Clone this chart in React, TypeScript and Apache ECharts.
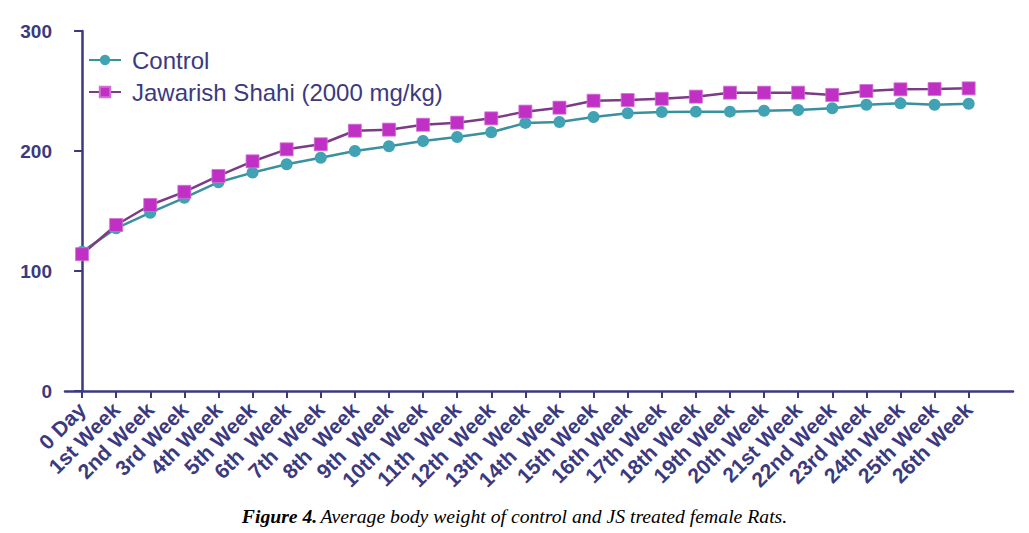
import React, { useEffect, useRef } from "react";
import * as echarts from "echarts";

const categories = [
  "0 Day", "1st Week", "2nd Week", "3rd Week", "4th Week", "5th Week", "6th  Week",
  "7th  Week", "8th  Week", "9th  Week", "10th  Week", "11th  Week", "12th  Week",
  "13th  Week", "14th  Week", "15th Week", "16th Week", "17th Week", "18th Week",
  "19th Week", "20th Week", "21st Week", "22nd Week", "23rd Week", "24th Week",
  "25th Week", "26th Week",
];

const controlValues = [
  116, 135.6, 148.6, 161, 174, 182, 189, 194.4, 200, 204, 208.3, 211.7, 215.6,
  223.4, 224.2, 228.3, 231.4, 232.5, 232.8, 232.8, 233.6, 234.2, 235.6, 238.6,
  239.7, 238.6, 239.4,
];

const jsValues = [
  114, 138.3, 155, 166, 179.2, 191.4, 201.4, 205.6, 216.9, 217.8, 221.9, 223.6,
  227.2, 232.8, 236.1, 241.9, 242.5, 243.5, 245.3, 248.6, 248.6, 248.6, 246.7,
  250, 251.4, 251.7, 252.2,
];

const yTicks = [0, 100, 200, 300];

const NAVY = "#3b3a7f";

export default function App() {
  const ref = useRef<HTMLDivElement>(null);
  useEffect(() => {
    if (!ref.current) return;
    const chart = echarts.init(ref.current, null, { renderer: "svg" });
    const idx = categories.map((_, i) => i);
    chart.setOption({
      animation: false,
      backgroundColor: "#ffffff",
      grid: { left: 65, top: 31, right: 16, bottom: 142, containLabel: false },
      legend: {
        orient: "vertical",
        left: 83,
        top: 43,
        itemWidth: 32,
        itemHeight: 13,
        itemGap: 8,
        textStyle: {
          color: NAVY,
          fontSize: 24,
          fontFamily: "Liberation Sans, Arial, sans-serif",
          padding: [0, 0, 0, 6],
        },
        data: ["Control", "Jawarish Shahi (2000 mg/kg)"],
      },
      xAxis: {
        type: "value",
        min: -0.5,
        max: 27.3,
        splitLine: { show: false },
        axisLine: { show: true, onZero: false, lineStyle: { color: NAVY, width: 2.5 } },
        axisTick: {
          show: true,
          length: 7,
          customValues: idx,
          lineStyle: { color: NAVY, width: 2 },
        },
        axisLabel: {
          customValues: idx,
          rotate: 45,
          margin: 15,
          color: NAVY,
          fontSize: 21,
          fontWeight: "bold",
          fontFamily: "Liberation Sans, Arial, sans-serif",
          formatter: (v: number) => categories[Math.round(v)] ?? "",
        },
      },
      yAxis: {
        type: "value",
        min: yTicks[0],
        max: yTicks[yTicks.length - 1],
        interval: 100,
        splitLine: { show: false },
        axisLine: { show: true, lineStyle: { color: NAVY, width: 2.5 } },
        axisTick: { show: true, length: 8, lineStyle: { color: NAVY, width: 2 } },
        axisLabel: {
          color: NAVY,
          fontSize: 19,
          fontWeight: "bold",
          margin: 13,
          fontFamily: "Liberation Sans, Arial, sans-serif",
        },
      },
      series: [
        {
          name: "Control",
          type: "line",
          data: controlValues.map((v, i) => [i, v]),
          symbol: "circle",
          symbolSize: 12,
          lineStyle: { color: "#3a909e", width: 2.5 },
          itemStyle: { color: "#41a2b3", borderWidth: 0 },
          z: 2,
        },
        {
          name: "Jawarish Shahi (2000 mg/kg)",
          type: "line",
          data: jsValues.map((v, i) => [i, v]),
          symbol: "rect",
          symbolSize: 13,
          lineStyle: { color: "#7b3b86", width: 2.5 },
          itemStyle: { color: "#c030c4", borderColor: "#d070d4", borderWidth: 0.8 },
          z: 3,
        },
      ],
      graphic: [
        {
          type: "text",
          left: "center",
          top: 506,
          style: {
            text: "{b|Figure 4.} {i|Average body weight of control and JS treated female Rats.}",
            rich: {
              b: {
                fontFamily: "Liberation Serif, Times New Roman, serif",
                fontStyle: "italic",
                fontWeight: "bold",
                fontSize: 19.7,
                fill: "#000",
              },
              i: {
                fontFamily: "Liberation Serif, Times New Roman, serif",
                fontStyle: "italic",
                fontSize: 19.7,
                fill: "#000",
              },
            },
          },
        },
      ],
    });
    return () => chart.dispose();
  }, []);
  return <div ref={ref} style={{ width: 1029, height: 533, position: "absolute", left: 0, top: 0 }} />;
}
